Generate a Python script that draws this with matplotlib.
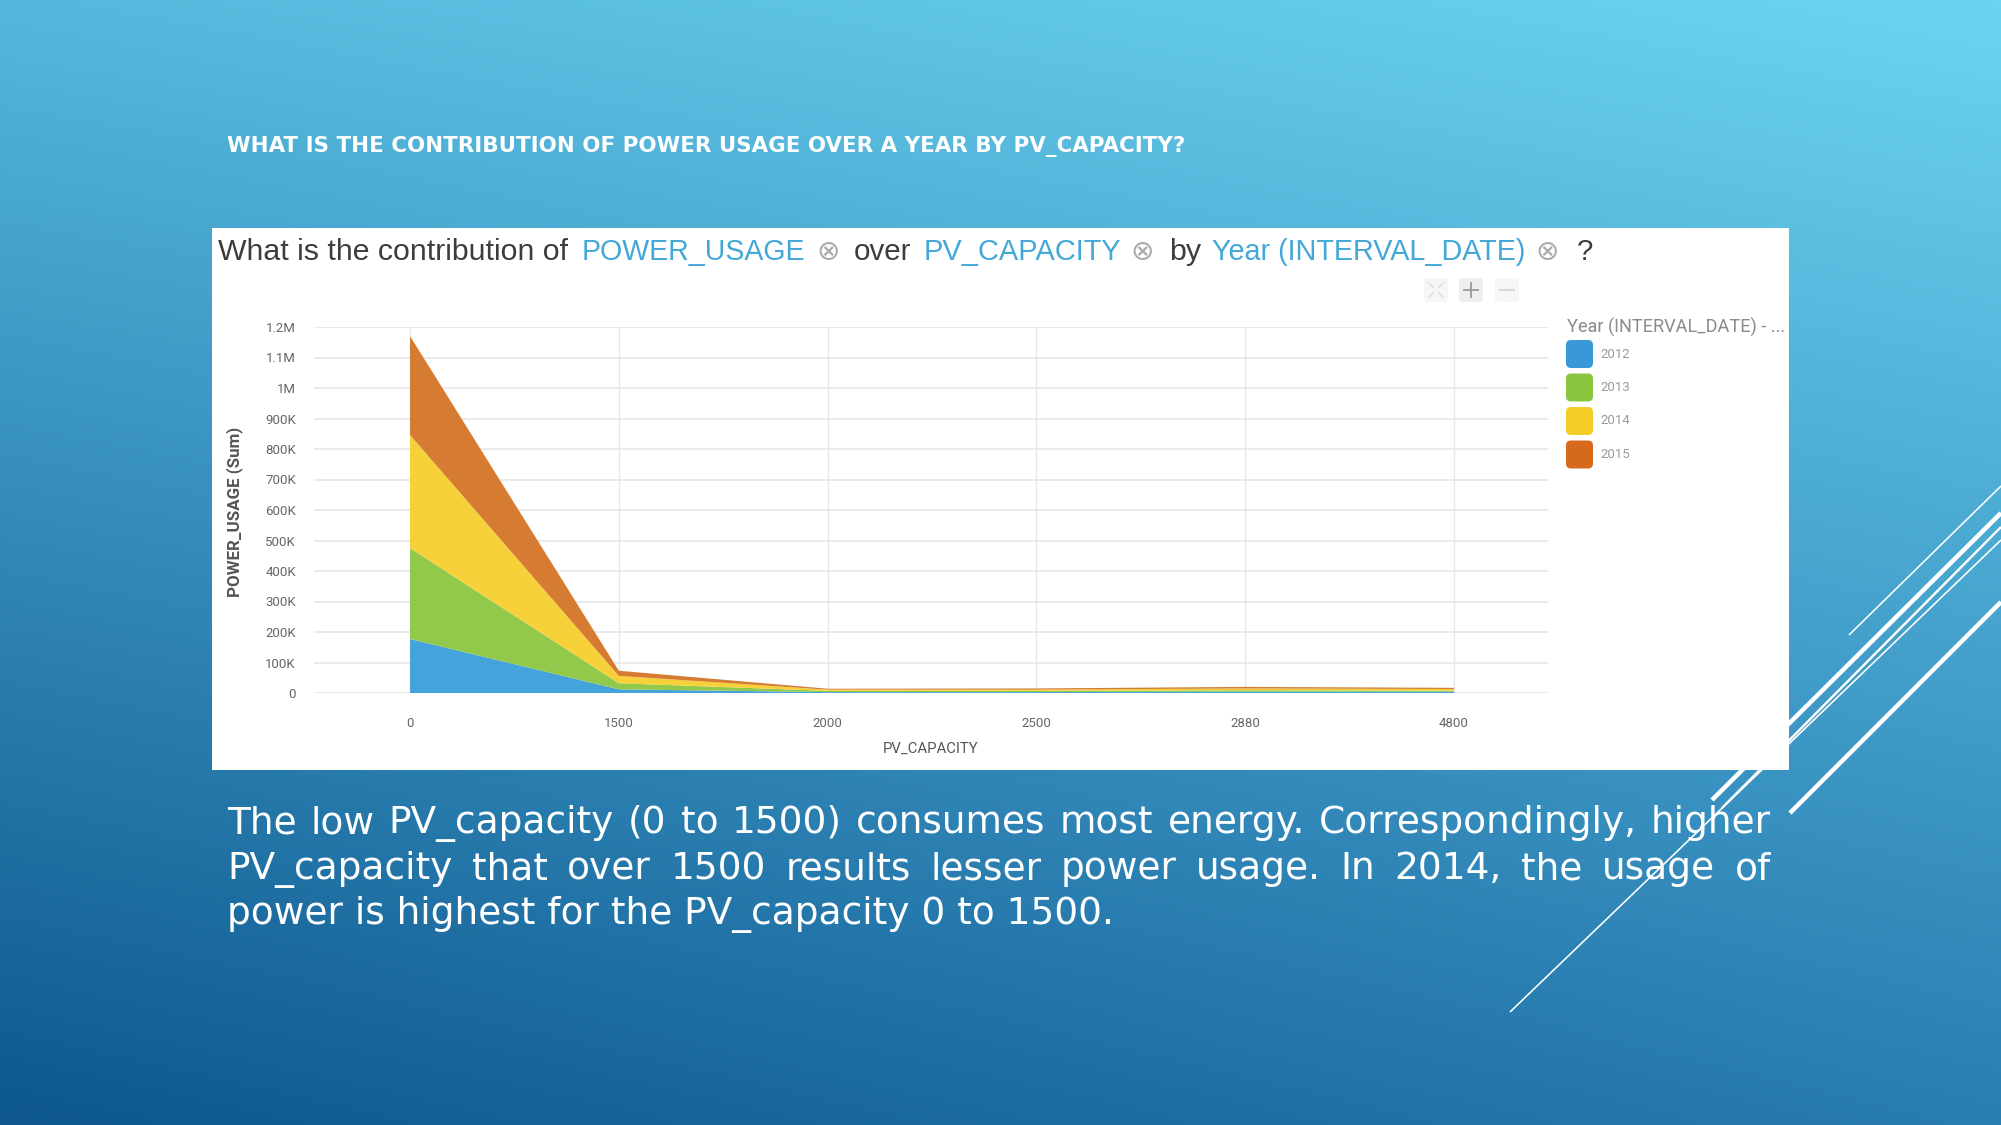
import numpy as np
import matplotlib
matplotlib.use("Agg")
import matplotlib.pyplot as plt
from matplotlib.patches import Rectangle, FancyBboxPatch

# dados
pv_capacity = ["0", "1500", "2000", "2500", "2880", "4800"]
years = ["2012", "2013", "2014", "2015"]
usage_2012 = [177000, 12000, 3000, 3000, 4000, 4000]
usage_2013 = [298000, 20000, 4000, 4000, 5000, 4000]
usage_2014 = [371000, 24000, 4000, 4000, 6000, 5000]
usage_2015 = [324000, 17000, 3000, 4000, 5000, 4000]
y_ticks = [0, 100000, 200000, 300000, 400000, 500000, 600000, 700000,
           800000, 900000, 1000000, 1100000, 1200000]
y_labels = ["0", "100K", "200K", "300K", "400K", "500K", "600K", "700K",
            "800K", "900K", "1M", "1.1M", "1.2M"]
area_colors = ["#44a3da", "#92c94a", "#f6d13a", "#d57c32"]
legend_colors = ["#3a98d8", "#8cc63f", "#f4cd26", "#d56a1c"]

slide_title = "WHAT IS THE CONTRIBUTION OF POWER USAGE OVER A YEAR BY PV_CAPACITY?"
body_lines = [
    "The low PV_capacity (0 to 1500) consumes most energy. Correspondingly, higher",
    "PV_capacity that over 1500 results lesser power usage. In 2014, the usage of",
    "power is highest for the PV_capacity 0 to 1500.",
]

W, H = 2001, 1125
fig = plt.figure(figsize=(W / 100, H / 100), dpi=100)
r = fig.canvas.get_renderer()

bg = fig.add_axes([0, 0, 1, 1])
bg.set_xlim(0, W)
bg.set_ylim(H, 0)
bg.axis("off")

# fundo em gradiente
tl = np.array([84, 184, 220])
tr = np.array([108, 212, 241])
bl = np.array([13, 86, 143])
br = np.array([40, 125, 178])
yy, xx = np.mgrid[0:1:200j, 0:1:356j]
xx = xx[..., None]
yy = yy[..., None]
img = (tl * (1 - xx) * (1 - yy) + tr * xx * (1 - yy) + bl * (1 - xx) * yy + br * xx * yy) / 255
bg.imshow(img, extent=(0, W, H, 0), aspect="auto", interpolation="bilinear", zorder=0)

# linhas decorativas
deco = [(1849, 635, 2001, 486, 1.6), (1712, 800, 2001, 513, 4.5), (1722, 808, 2001, 527, 2.4),
        (1510, 1012, 2001, 540, 1.6), (1790, 813, 2001, 602, 4.5)]
for x0, y0, x1, y1, lw in deco:
    bg.plot([x0, x1], [y0, y1], color="white", lw=lw * 0.72, solid_capstyle="butt", zorder=1)

# painel branco
bg.add_patch(Rectangle((212, 228), 1577, 542, fc="white", ec="none", zorder=2))


def fit(x, y, s, width, **kw):
    t = bg.text(x, y, s, fontsize=10, **kw)
    w = t.get_window_extent(r).width
    t.set_fontsize(10 * width / w)
    return t


def px_width(t):
    return t.get_window_extent(r).width


# titulo do slide
fit(227, 152, slide_title, 958, color="white", family="DejaVu Sans",
    weight="bold", va="baseline", zorder=3)

# texto justificado
probe = bg.text(0, 0, body_lines[2], fontsize=10, family="DejaVu Sans")
body_fs = 10 * 887 / px_width(probe)
probe.remove()
left, right = 227, 1771
baselines = [833, 879, 924]
for i, line in enumerate(body_lines):
    words = line.split(" ")
    if i == len(body_lines) - 1:
        bg.text(left, baselines[i], line, fontsize=body_fs, color="white",
                family="DejaVu Sans", va="baseline", zorder=3)
        continue
    arts = [bg.text(0, baselines[i], w_, fontsize=body_fs, color="white",
                    family="DejaVu Sans", va="baseline", zorder=3) for w_ in words]
    widths = [px_width(a) for a in arts]
    gap = (right - left - sum(widths)) / (len(words) - 1)
    x = left
    for a, w_ in zip(arts, widths):
        a.set_x(x)
        x += w_ + gap

# cabecalho do painel
dark = "#3d3d3d"
blue = "#43a7d8"
header = [(218, 569, "What is the contribution of", dark), (582, 806, "POWER_USAGE", blue),
          (854, 912, "over", dark), (924, 1122, "PV_CAPACITY", blue), (1169, 1201, "by", dark),
          (1212, 1526, "Year (INTERVAL_DATE)", blue)]
sizes = []
for x0, x1, s, c in header:
    t = fit(x0, 260, s, x1 - x0, color=c, family="Liberation Sans", va="baseline", zorder=3)
    sizes.append(t.get_fontsize())
head_fs = np.mean(sizes)
bg.text(1577, 260, "?", fontsize=head_fs, color=dark, family="Liberation Sans",
        va="baseline", zorder=3)
for x in [828, 1142, 1547]:
    bg.text(x, 252, "\u2297", fontsize=head_fs * 0.95, color="#ababab",
            family="DejaVu Sans", ha="center", va="center", zorder=3)

# icones da barra de ferramentas
for cx, fc in [(1436, "#f6f6f6"), (1471, "#eeeeee"), (1507, "#f6f6f6")]:
    bg.add_patch(FancyBboxPatch((cx - 12, 278), 24, 24, boxstyle="round,pad=0,rounding_size=3",
                                fc=fc, ec="none", zorder=3))
bg.plot([1471, 1471], [283, 297], color="#999999", lw=1.3, zorder=4)
bg.plot([1464, 1478], [290, 290], color="#999999", lw=1.3, zorder=4)
bg.plot([1500, 1514], [290, 290], color="#d5d5d5", lw=1.3, zorder=4)
for sx, sy in [(-1, -1), (1, -1), (-1, 1), (1, 1)]:
    bg.plot([1436 + sx * 3, 1436 + sx * 7], [290 + sy * 3, 290 + sy * 7],
            color="#d8d8d8", lw=0.9, zorder=4)

# legenda
fit(1567, 327, "Year (INTERVAL_DATE) - ...", 218, color="#8a8a8a",
    family="Roboto", va="center", zorder=3)
for i, (yr, c) in enumerate(zip(years, legend_colors)):
    cy = 354 + i * 33.5
    bg.add_patch(FancyBboxPatch((1566, cy - 14), 27, 28, boxstyle="round,pad=0,rounding_size=5",
                                fc=c, ec="none", zorder=3))
    bg.text(1600, cy, yr, fontsize=9.5, color="#9a9a9a", family="Roboto",
            va="center", zorder=3)

# rotulos dos eixos
yl = fit(235, 512, "POWER_USAGE (Sum)", 169, color="#555555", family="Roboto",
         weight="bold", ha="center", va="center", zorder=3)
yl.set_rotation(90)
fit(931, 749, "PV_CAPACITY", 95, color="#555555", family="Roboto",
    ha="center", va="center", zorder=3)

# grafico de area
ax = fig.add_axes([314 / W, 1 - 693 / H, 1234 / W, 366 / H], zorder=3)
ax.patch.set_alpha(0)
x = np.arange(len(pv_capacity))
ax.stackplot(x, usage_2012, usage_2013, usage_2014, usage_2015,
             colors=area_colors, lw=0, labels=years)
ax.set_xlim(-0.46, 5.45)
ax.set_ylim(0, 1.2e6)
ax.set_yticks(y_ticks)
ax.set_yticklabels(y_labels)
ax.set_xticks(x)
ax.set_xticklabels(pv_capacity)
ax.grid(axis="y", color="#e6e6e6", lw=1.2)
ax.grid(axis="x", color="#e3eaef", lw=1.0)
ax.set_axisbelow(True)
for sp in ax.spines.values():
    sp.set_visible(False)
ax.tick_params(axis="y", length=0, pad=13, labelsize=9.5, labelcolor="#666666")
ax.tick_params(axis="x", length=0, pad=17, labelsize=9.5, labelcolor="#666666")
for lab in ax.get_xticklabels() + ax.get_yticklabels():
    lab.set_family("Roboto")

fig.savefig("out.png", dpi=100)
